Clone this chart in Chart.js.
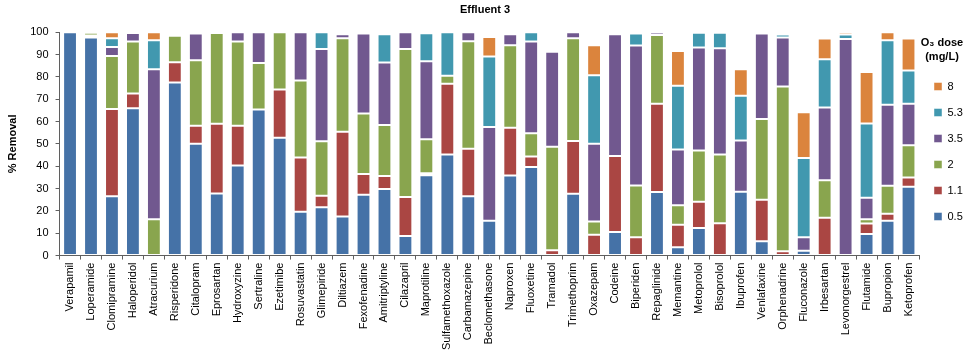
<!DOCTYPE html>
<html>
<head>
<meta charset="utf-8">
<script src="https://cdn.jsdelivr.net/npm/chart.js@4.4.0/dist/chart.umd.min.js"></script>
<style>
  html, body { margin: 0; padding: 0; background: #fff; }
  #wrap { width: 965px; height: 360px; }
</style>
</head>
<body>
<div id="wrap"><canvas id="chart_id" width="965" height="360"></canvas></div>
<script>
const drugs = ["Verapamil", "Loperamide", "Clomipramine", "Haloperidol", "Atracurium", "Risperidone",
  "Citalopram", "Eprosartan", "Hydroxyzine", "Sertraline", "Ezetimibe", "Rosuvastatin", "Glimepiride",
  "Diltiazem", "Fexofenadine", "Amitriptyline", "Cilazapril", "Maprotiline", "Sulfamethoxazole",
  "Carbamazepine", "Beclomethasone", "Naproxen", "Fluoxetine", "Tramadol", "Trimethoprim", "Oxazepam",
  "Codeine", "Biperiden", "Repaglinide", "Memantine", "Metoprolol", "Bisoprolol", "Ibuprofen",
  "Venlafaxine", "Orphenadrine", "Fluconazole", "Irbesartan", "Levonorgestrel", "Flutamide",
  "Bupropion", "Ketoprofen"];

// extra % removal gained at each ozone dose (stacked on top of the lower dose)
const dose_0_5 = [100, 97.6, 26.6, 65.9, 0, 77.5, 50.1, 27.8, 40.3, 65.4, 52.7, 19.6, 21.6,
  17.5, 27.2, 29.8, 8.8, 35.9, 45.2, 26.5, 15.6, 35.8, 39.7, 0, 27.7, 0,
  10.6, 0, 28.4, 3.7, 12.3, 0, 28.6, 6.4, 0, 2.2, 0, 0, 9.7, 15.6, 30.8];
const dose_1_1 = [0, 0.9, 39, 6.6, 0, 9, 8, 31.2, 17.8, 0, 21.6, 24.3, 5.2,
  37.9, 9.3, 5.8, 17.4, 0.9, 31.7, 21.3, 0, 21.4, 4.6, 2.4, 23.6, 9.3,
  34, 8.2, 39.6, 10.1, 11.8, 14.5, 0, 18.6, 1.9, 0, 16.9, 0, 4.7, 3.1, 4.1];
const dose_2 = [0, 1.2, 23.8, 23.3, 16.2, 11.9, 29.3, 40.6, 37.7, 20.8, 25.7, 34.5, 24.4,
  41.9, 27.1, 22.8, 66.3, 15.3, 3.6, 48.2, 0, 37, 10.5, 46.3, 46, 6,
  0, 23.2, 30.7, 8.7, 22.9, 30.7, 0, 36.1, 73.8, 0, 16.8, 0, 1.8, 12.6, 14.5];
const dose_3_5 = [0, 0, 4, 3.8, 67.2, 0.9, 12, 0.4, 4.2, 13.8, 0, 21.6, 41.3,
  1.8, 35.8, 28, 7.5, 34.9, 0, 4, 42, 4.9, 41, 42.6, 2.7, 34.8,
  54.5, 62.6, 1.2, 25, 46.1, 47.6, 22.9, 38.3, 21.9, 6, 32.6, 96.9, 9.7, 36.2, 18.6];
const dose_5_3 = [0, 0.3, 3.9, 0.4, 13, 0, 0.6, 0, 0, 0, 0, 0, 7.5,
  0.5, 0.6, 12.7, 0, 12.5, 19.5, 0, 31.5, 0, 4.2, 0, 0, 30.6,
  0, 5.4, 0.1, 28.5, 6.6, 6.9, 20.1, 0, 1.4, 35.5, 21.6, 2.1, 33.2, 28.9, 14.9];
const dose_8 = [0, 0, 2.7, 0, 3.6, 0, 0, 0, 0, 0, 0, 0, 0,
  0.4, 0, 0.9, 0, 0.5, 0, 0, 8.7, 0, 0, 0, 0, 13.5,
  0, 0.6, 0, 15.6, 0.3, 0.3, 11.8, 0, 0.7, 20.5, 9.3, 1, 23.1, 3.6, 14.3];

const dose_labels = ["0.5", "1.1", "2", "3.5", "5.3", "8"];
const dose_colors = ["#4572A7", "#AA4643", "#89A54E", "#71588F", "#4198AF", "#DB843D"];
const y_ticks = [0, 10, 20, 30, 40, 50, 60, 70, 80, 90, 100];

const series = [dose_0_5, dose_1_1, dose_2, dose_3_5, dose_5_3, dose_8];
const font_family = "'Liberation Sans', Arial, sans-serif";
const axis_color = "#5f5f5f";

const datasets = series.map((values, i) => ({
  label: dose_labels[i],
  data: values.map(v => (v > 0 ? v : null)),
  backgroundColor: dose_colors[i],
  borderColor: "rgba(255,255,255,0.45)",
  borderWidth: 1,
  borderSkipped: false,
  barPercentage: 0.66,
  categoryPercentage: 1.0
}));

const ctx = document.getElementById("chart_id");
new Chart(ctx, {
  type: "bar",
  data: { labels: drugs, datasets: datasets },
  options: {
    responsive: false,
    animation: false,
    layout: { padding: { left: 5, right: 0, top: 2, bottom: 7 } },
    plugins: {
      title: {
        display: true,
        text: "Effluent 3",
        color: "#000",
        font: { family: font_family, size: 11, weight: "bold" },
        padding: { top: 1, bottom: 16 }
      },
      legend: {
        position: "right",
        reverse: true,
        align: "start",
        maxWidth: 46,
        title: {
          display: true,
          text: ["O\u2083 dose", "(mg/L)"],
          color: "#000",
          font: { family: font_family, size: 11, weight: "bold", lineHeight: 14 / 11 },
          padding: { top: 35, bottom: 15 }
        },
        labels: {
          boxWidth: 8,
          boxHeight: 8,
          padding: 15,
          color: "#000",
          font: { family: font_family, size: 11 }
        }
      },
      tooltip: { enabled: false }
    },
    scales: {
      x: {
        stacked: true,
        grid: { display: true, drawOnChartArea: false, drawTicks: true, tickLength: 4, color: axis_color, offset: true },
        border: { display: true, color: axis_color },
        ticks: {
          autoSkip: false,
          minRotation: 90,
          maxRotation: 90,
          color: "#000",
          padding: 3,
          font: { family: font_family, size: 11 }
        }
      },
      y: {
        stacked: true,
        min: 0,
        max: 100,
        afterBuildTicks: (axis) => { axis.ticks = y_ticks.map(v => ({ value: v })); },
        grid: { display: true, drawOnChartArea: false, drawTicks: true, tickLength: 4, color: axis_color },
        border: { display: true, color: axis_color },
        title: {
          display: true,
          text: "% Removal",
          color: "#000",
          font: { family: font_family, size: 11, weight: "bold" },
          padding: { top: 1, bottom: 4 }
        },
        ticks: {
          color: "#000",
          padding: 7,
          font: { family: font_family, size: 11 }
        }
      }
    }
  }
});
</script>
</body>
</html>
